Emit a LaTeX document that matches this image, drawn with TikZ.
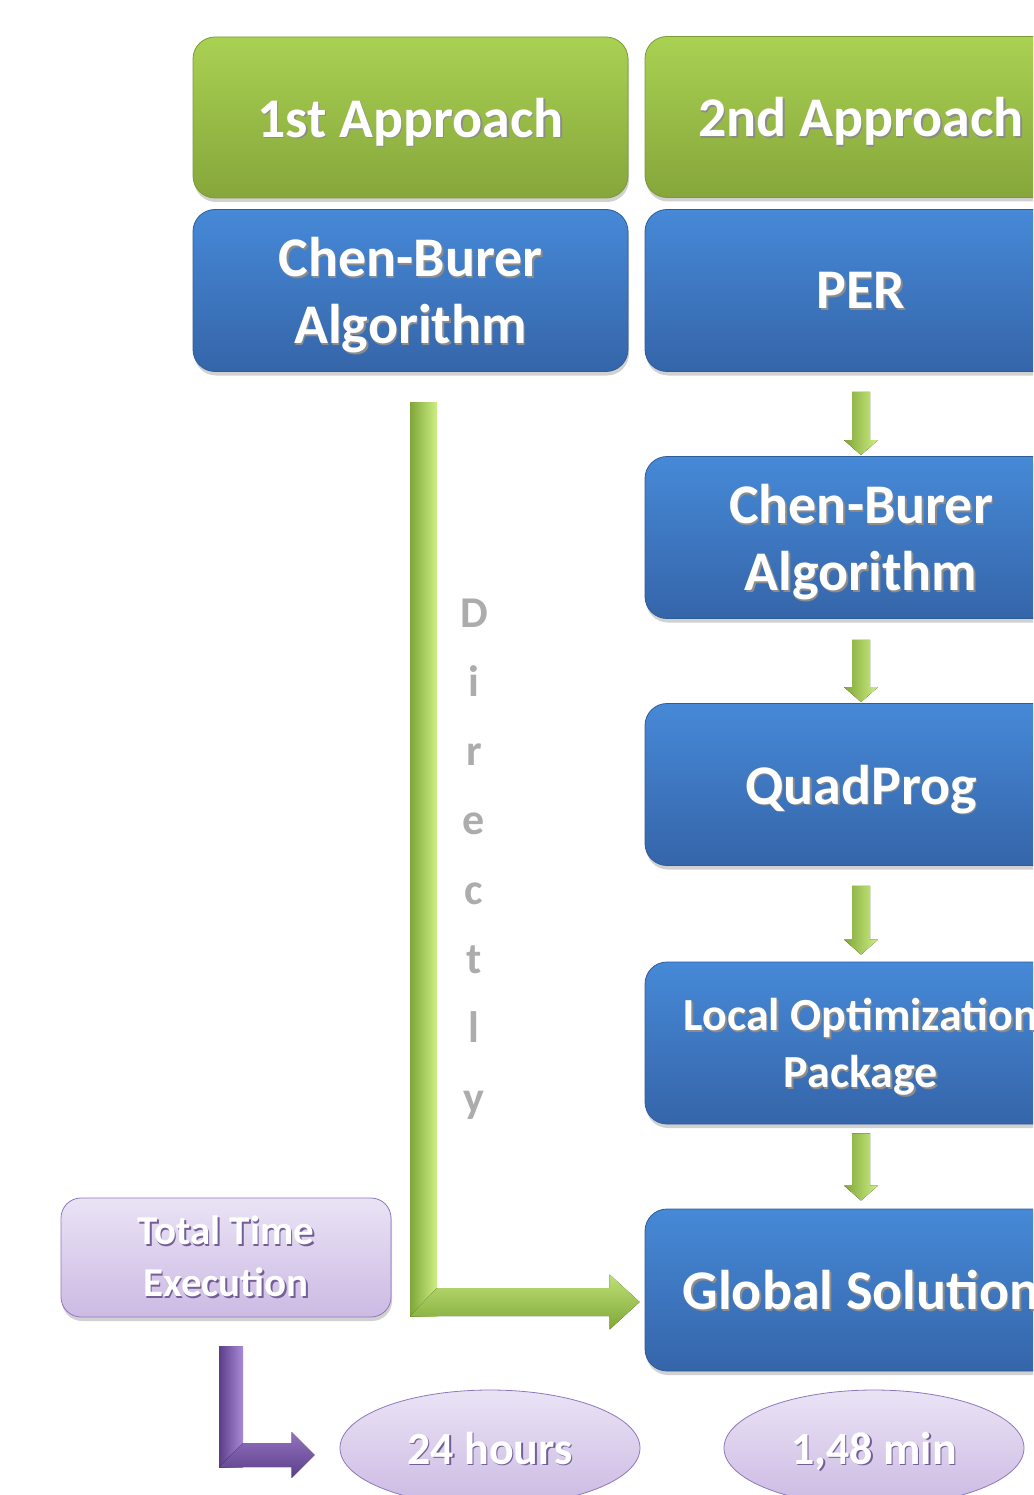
\documentclass[tikz,border=0pt]{standalone}
\usepackage{fontspec}
\setmainfont{Carlito}
\usetikzlibrary{shadows,calc,shapes.geometric}
\definecolor{grtop}{HTML}{A9D152}
\definecolor{grbot}{HTML}{86A63B}
\definecolor{grline}{HTML}{7C9A36}
\definecolor{bltop}{HTML}{4689D7}
\definecolor{blbot}{HTML}{3565A9}
\definecolor{blline}{HTML}{2E5C99}
\definecolor{putop}{HTML}{EAE3F5}
\definecolor{pubot}{HTML}{CCBAE3}
\definecolor{puline}{HTML}{9077BC}
\definecolor{gA}{HTML}{80A638}
\definecolor{gB}{HTML}{CDEF83}
\definecolor{pA}{HTML}{5B3E88}
\definecolor{pB}{HTML}{A98AD8}
\colorlet{shcol}{black!45}
\newcommand\shd[1]{\makebox[0pt][l]{\hspace{1.5pt}\raisebox{-1.8pt}{\textcolor{shcol}{#1}}}#1}
\newcommand\dnarrow[4]{%
  \fill[left color=gA, right color=gB]
    ($(#1.south)+(-9,#2)$) -- ($(#1.south)+(9,#2)$) --
    ($(#3.north)+(9,-#4-15)$) -- ($(#3.north)+(17,-#4-15)$) --
    ($(#3.north)+(0,-#4)$) -- ($(#3.north)+(-17,-#4-15)$) --
    ($(#3.north)+(-9,-#4-15)$) -- cycle;}
\begin{document}
\begin{tikzpicture}[x=1pt,y=-1pt,
  boxshadow/.style={drop shadow={shadow xshift=1pt, shadow yshift=-4pt, opacity=0.3, fill=black!60}},
  greenbox/.style={rounded corners=22pt, top color=grtop, bottom color=grbot, draw=grline,
    line width=0.8pt, minimum width=435pt, minimum height=161pt, text=white, align=center,
    text depth=0pt, font=\fontsize{56}{67}\selectfont\bfseries, boxshadow},
  bluebox/.style={greenbox, top color=bltop, bottom color=blbot, draw=blline, minimum height=162pt},
  smallblue/.style={bluebox, font=\fontsize{46}{57}\selectfont\bfseries},
  purplebox/.style={rounded corners=20pt, top color=putop, bottom color=pubot, draw=puline,
    line width=0.8pt, minimum width=330pt, minimum height=119pt, text=white, align=center,
    font=\fontsize{41}{52}\selectfont\bfseries, boxshadow,
    execute at begin node={\colorlet{shcol}{puline!80!black}}},
  timeoval/.style={ellipse, top color=putop, bottom color=pubot, draw=puline, line width=0.8pt,
    minimum width=300pt, minimum height=116pt, inner sep=0pt, text=white, text depth=0pt,
    font=\fontsize{46}{52}\selectfont\bfseries,
    execute at begin node={\colorlet{shcol}{puline!80!black}}},
  dirl/.style={text=gray!65, font=\fontsize{44}{50}\selectfont\bfseries, inner sep=0pt}
]
\path[use as bounding box] (0,0) rectangle (1033,1495);
\clip (0,0) rectangle (1033,1495);

% top row
\node[greenbox] (a1) at (410.5,117.5) {\shd{1st Approach}};
\node[greenbox, minimum width=432pt] (a2) at (861,117) {\shd{2nd Approach}};
\node[bluebox] (cb1) at (410.5,290.5) {\shd{Chen-Burer}\\\shd{Algorithm}};
\node[bluebox, minimum width=432pt] (per) at (861,290.5) {\shd{PER}};

% second approach column
\node[bluebox, minimum width=432pt] (cb2) at (861,537.5) {\shd{Chen-Burer}\\\shd{Algorithm}};
\node[bluebox, minimum width=432pt] (qp) at (861,784.5) {\shd{QuadProg}};
\node[smallblue, minimum width=432pt] (lo) at (861,1043) {\shd{Local Optimization}\\\shd{Package}};
\node[bluebox, minimum width=432pt] (gs) at (861,1290) {\shd{Global Solution}};

% time boxes
\node[purplebox] (tte) at (226,1257.5) {\shd{Total Time}\\\shd{Execution}};
\node[timeoval] (h24) at (490,1448) {\shd{24 hours}};
\node[timeoval] (m148) at (874,1448) {\shd{1,48 min}};

% small arrows
\dnarrow{per}{20}{cb2}{1}
\dnarrow{cb2}{21}{qp}{1}
\dnarrow{qp}{20}{lo}{7}
\dnarrow{lo}{9}{gs}{8}

% green L arrow: Chen-Burer directly to Global Solution
\coordinate (gstart) at ($(cb1.south)+(13,31)$);
\coordinate (gtip) at ($(gs.west)+(-5,12)$);
\fill[left color=gA, right color=gB]
  ($(gstart)+(-13.5,0)$) rectangle ($(gstart |- gtip)+(13.5,14)$);
\fill[top color=gB!80!gA, bottom color=gA]
  ($(gstart |- gtip)+(13.5,-14)$) -- ($(gtip)+(-30,-14)$) -- ($(gtip)+(-30,-27.5)$) --
  (gtip) -- ($(gtip)+(-30,27.5)$) -- ($(gtip)+(-30,14)$) --
  ($(gstart |- gtip)+(-13.5,14)$) -- ($(gstart |- gtip)+(13.5,-14)$) -- cycle;

% "Directly" letters
\foreach \ch [count=\i from 0] in {D,i,r,e,c,t,l,y}
  \node[dirl, anchor=base] (d\i) at (474,{627+69.3*\i}) {\ch};

% purple L arrow
\coordinate (pstart) at ($(tte.south)+(5,29)$);
\coordinate (ptip) at ($(h24.west)+(-25,7)$);
\fill[left color=pA, right color=pB]
  ($(pstart)+(-12,0)$) rectangle ($(pstart |- ptip)+(12,12)$);
\fill[top color=pB!70!pA, bottom color=pA]
  ($(pstart |- ptip)+(12,-12)$) -- ($(ptip)+(-23,-12)$) -- ($(ptip)+(-23,-23)$) --
  (ptip) -- ($(ptip)+(-23,23)$) -- ($(ptip)+(-23,12)$) --
  ($(pstart |- ptip)+(-12,12)$) -- ($(pstart |- ptip)+(12,-12)$) -- cycle;
\end{tikzpicture}
\end{document}
